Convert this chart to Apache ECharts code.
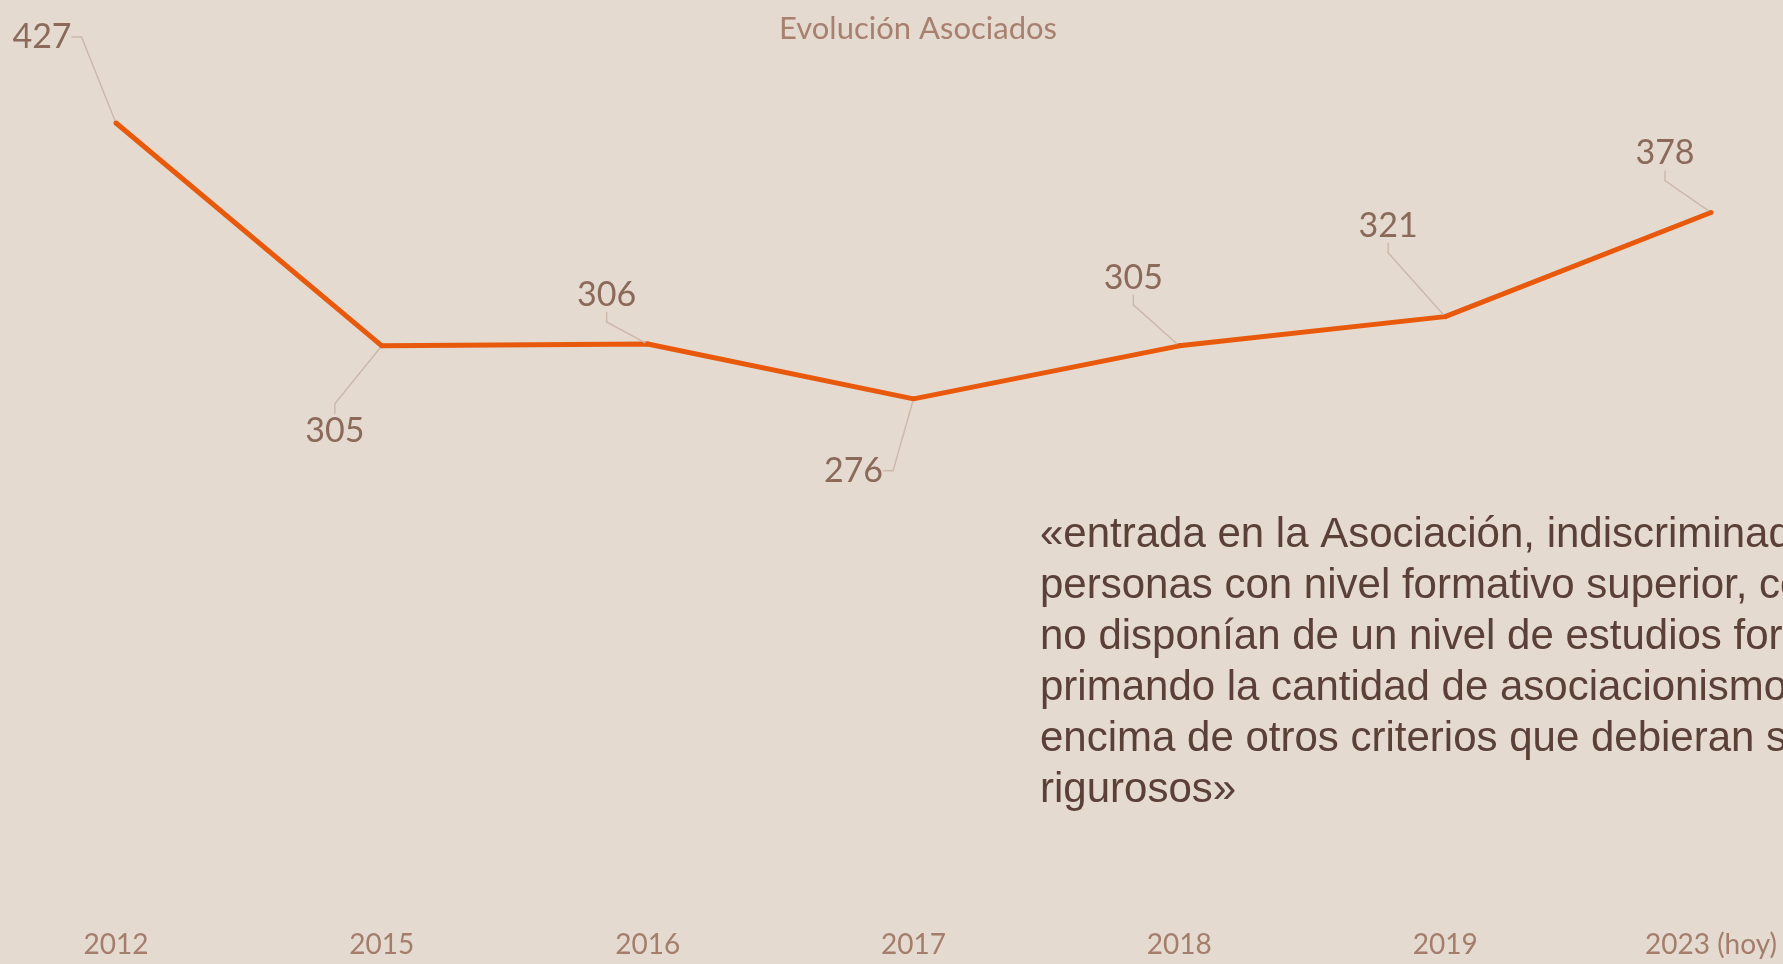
<!DOCTYPE html>
<html>

<head>
    <meta charset="utf-8">
    <title>Evolución Asociados</title>
    <script src="https://cdn.jsdelivr.net/npm/echarts@6/dist/echarts.min.js"></script>
    <style>
        html, body { margin: 0; padding: 0; background: #e4dad0; }
    </style>
</head>

<body>
    <div id="main" style="width: 1783px;height:964px;"></div>
    <script type="text/javascript">
        var myChart = echarts.init(document.getElementById('main'));

        // datos
        var years = ['2012', '2015', '2016', '2017', '2018', '2019', '2023 (hoy)'];
        var socios = [427, 305, 306, 276, 305, 321, 378];
        var quoteLines = [
            '«entrada en la Asociación, indiscriminadamente, de',
            'personas con nivel formativo superior, con otras que',
            'no disponían de un nivel de estudios formal,',
            'primando la cantidad de asociacionismo por',
            'encima de otros criterios que debieran ser más',
            'rigurosos»'
        ];

        // desplazamiento de cada etiqueta respecto a su punto
        var labelShift = [
            [-74, -86], [-47, 85], [-41, -49], [-60, 72],
            [-46, -68], [-57, -91], [-46, -59]
        ];

        var option = {
            backgroundColor: '#e4dad0',
            title: {
                text: 'Evolución Asociados',
                left: 913,
                top: 8,
                textAlign: 'center',
                textStyle: {
                    color: '#a8806f',
                    fontFamily: 'Lato',
                    fontWeight: 'normal',
                    fontSize: 31
                }
            },
            grid: {
                left: 116,
                right: 72,
                top: 123,
                bottom: 61
            },
            xAxis: {
                type: 'category',
                boundaryGap: false,
                data: years,
                axisLine: { show: false },
                axisTick: { show: false },
                splitLine: { show: false },
                axisLabel: {
                    margin: 28,
                    color: '#a57d6b',
                    fontFamily: 'Lato',
                    fontSize: 28
                }
            },
            yAxis: {
                type: 'value',
                min: 0,
                max: 'dataMax',
                show: false,
                splitLine: { show: false }
            },
            graphic: [{
                type: 'text',
                left: 1040,
                top: 510,
                style: {
                    text: quoteLines.join('\n'),
                    fill: '#5a4037',
                    font: '42px "Liberation Sans", Arial, sans-serif',
                    lineHeight: 51
                }
            }],
            series: [{
                type: 'line',
                data: socios,
                symbol: 'circle',
                symbolSize: 5,
                itemStyle: { color: '#e8590c' },
                lineStyle: { color: '#e8590c', width: 5 },
                label: {
                    show: true,
                    position: 'inside',
                    color: '#8c6a5a',
                    fontFamily: 'Lato',
                    fontSize: 34,
                    padding: [0, 6]
                },
                labelLine: {
                    show: true,
                    length2: 10,
                    lineStyle: { color: '#cdb9ac', width: 1.5 }
                },
                labelLayout: function(params) {
                    var s = labelShift[params.dataIndex];
                    return { dx: s[0], dy: s[1] };
                },
                animation: false
            }]
        };

        myChart.setOption(option);
    </script>
</body>

</html>
